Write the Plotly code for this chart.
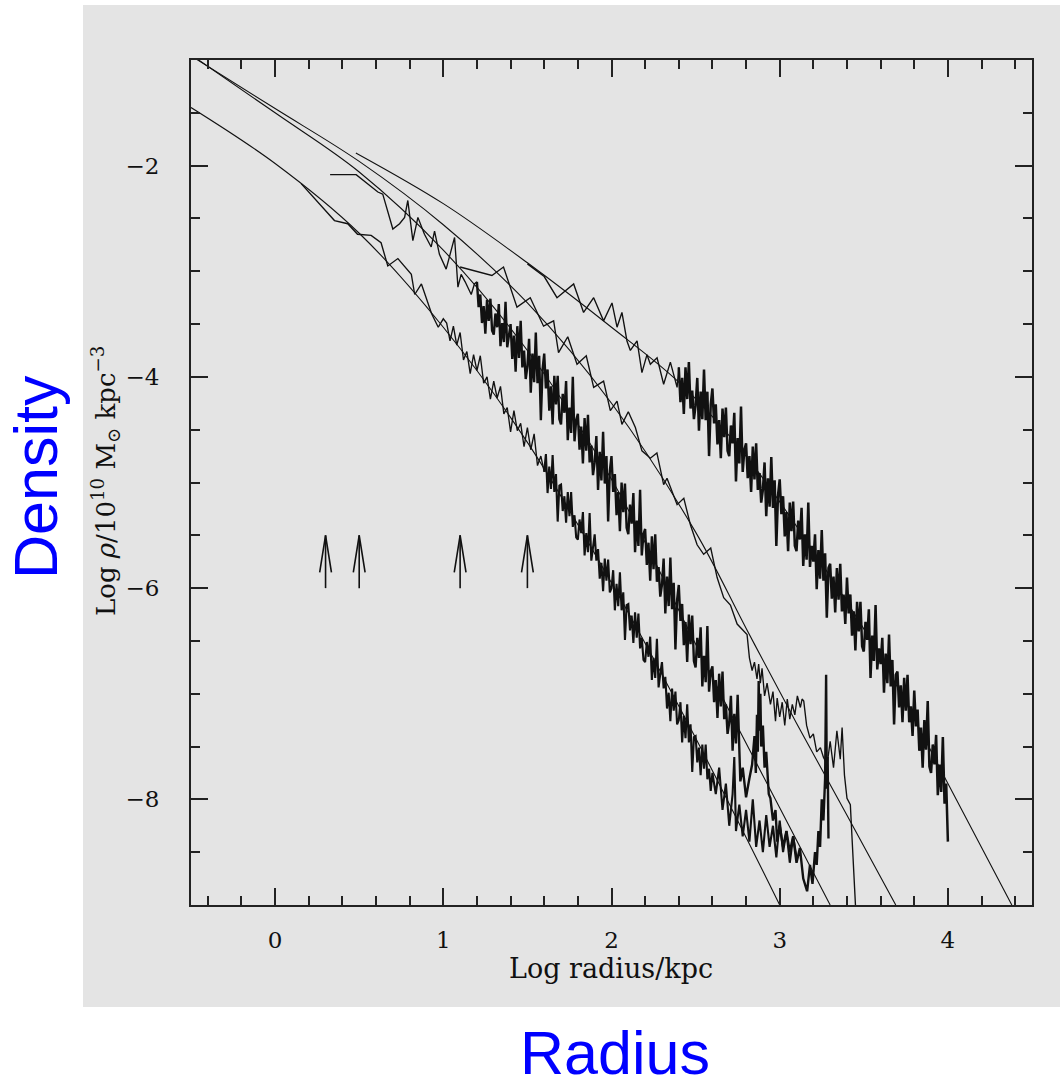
import plotly.graph_objects as go

# ---------------- axes ----------------
X_RANGE = [-0.5, 4.5]
Y_RANGE = [-9.0, -1.0]

# ---------------- model (fit) curves ----------------
M1_X = [-0.5, 0.0, 0.5, 1.0, 1.5, 2.0, 2.5, 3.0]
M1_Y = [-1.45, -1.98, -2.64, -3.53, -4.62, -5.95, -7.42, -9.0]
M2_X = [-0.5, 0.0, 0.5, 1.0, 1.5, 2.0, 2.5, 2.7, 3.0, 3.3]
M2_Y = [-0.95, -1.50, -2.06, -2.80, -3.75, -4.97, -6.53, -7.16, -8.08, -9.0]
M3_X = [-0.5, 0.0, 0.5, 1.0, 1.5, 2.0, 2.5, 2.8, 3.1, 3.4, 3.69]
M3_Y = [-0.96, -1.46, -1.96, -2.56, -3.30, -4.25, -5.47, -6.38, -7.28, -8.15, -9.0]
M4_X = [0.48, 1.0, 1.5, 2.0, 2.4, 2.8, 3.2, 3.6, 4.0, 4.38]
M4_Y = [-1.88, -2.36, -2.92, -3.53, -4.05, -4.75, -5.65, -6.65, -7.85, -9.0]

# ---------------- halo 1 data ----------------
H1_SPARSE_X = [0.155, 0.353, 0.432, 0.49, 0.571, 0.63, 0.67, 0.73, 0.81, 0.83, 0.87, 0.93, 0.97, 1.00]
H1_SPARSE_Y = [-2.17, -2.52, -2.55, -2.65, -2.66, -2.73, -2.95, -2.88, -3.03, -3.22, -3.12, -3.40, -3.53, -3.45]
H1_MID_START, H1_MID_STEP = 1.02, 0.02
H1_MID_Y = [-3.49, -3.66, -3.52, -3.70, -3.58, -3.84, -3.76, -3.97, -3.79, -3.94,
            -3.80, -4.06, -4.00, -4.21, -4.04, -4.20, -4.09, -4.35, -4.29, -4.52,
            -4.32, -4.51, -4.44, -4.66, -4.48, -4.69, -4.54, -4.84, -4.75]
H1_DENSE_START, H1_DENSE_STEP = 1.60, 0.01
H1_DENSE_Y = [-4.90, -4.73, -5.10, -4.85, -5.06, -4.74, -5.09, -4.92, -5.37, -5.03,
              -5.02, -5.27, -5.13, -5.38, -5.09, -5.32, -5.09, -5.42, -5.31, -5.52,
              -5.54, -5.35, -5.48, -5.28, -5.69, -5.48, -5.66, -5.29, -5.74, -5.60,
              -5.49, -5.74, -5.63, -5.91, -5.76, -6.03, -5.72, -5.93, -5.73, -6.04,
              -6.00, -5.83, -6.21, -5.96, -6.17, -5.85, -6.21, -6.04, -6.49, -6.16,
              -6.15, -6.40, -6.26, -6.52, -6.23, -6.47, -6.24, -6.57, -6.47, -6.68,
              -6.70, -6.51, -6.65, -6.46, -6.87, -6.66, -6.85, -6.48, -6.94, -6.81,
              -6.70, -6.95, -6.84, -7.14, -6.99, -7.26, -6.95, -7.16, -6.98, -7.29,
              -7.25, -7.08, -7.46, -7.21, -7.42, -7.10, -7.46, -7.29, -7.74, -7.41,
              -7.40, -7.65, -7.51, -7.77, -7.48, -7.71, -7.48, -7.81, -7.71, -7.92, -7.75]
H1_TAIL_X = [2.62, 2.64, 2.66, 2.68, 2.70, 2.72, 2.73, 2.74, 2.76, 2.78, 2.80, 2.82, 2.84,
             2.86, 2.88, 2.90, 2.92, 2.94, 2.96, 2.98, 3.00, 3.02, 3.04, 3.06, 3.08, 3.10]
H1_TAIL_Y = [-7.95, -7.70, -8.10, -7.85, -8.25, -7.95, -7.60, -8.30, -8.05, -8.35, -8.10, -8.40, -8.00,
             -8.45, -8.20, -8.50, -8.15, -8.45, -8.25, -8.55, -8.20, -8.50, -8.30, -8.60, -8.35, -8.55]

# ---------------- halo 2 data ----------------
H2_SPARSE_X = [0.327, 0.482, 0.611, 0.64, 0.70, 0.74, 0.77, 0.789, 0.819, 0.849, 0.888, 0.928,
               0.948, 0.977, 1.017, 1.067, 1.087, 1.106, 1.13, 1.166, 1.185]
H2_SPARSE_Y = [-2.085, -2.085, -2.25, -2.27, -2.60, -2.55, -2.49, -2.33, -2.71, -2.49, -2.65, -2.77,
               -2.62, -2.84, -2.98, -2.68, -3.15, -3.03, -3.10, -3.22, -3.12]
H2_DENSE_START, H2_DENSE_STEP = 1.20, 0.01
H2_DENSE_Y = [-3.10, -3.34, -3.22, -3.49, -3.33, -3.59, -3.27, -3.47, -3.26, -3.56,
              -3.60, -3.40, -3.53, -3.31, -3.71, -3.49, -3.67, -3.29, -3.72, -3.58,
              -3.50, -3.83, -3.61, -3.95, -3.52, -3.82, -3.47, -3.91, -3.75, -4.02,
              -3.90, -3.64, -4.15, -3.78, -4.05, -3.58, -4.06, -3.80, -4.41, -3.93,
              -3.78, -4.11, -3.93, -4.32, -4.09, -4.45, -3.99, -4.26, -3.99, -4.40,
              -4.45, -4.16, -4.34, -4.04, -4.60, -4.29, -4.53, -4.00, -4.61, -4.41,
              -4.35, -4.69, -4.47, -4.82, -4.39, -4.70, -4.36, -4.81, -4.65, -4.93,
              -4.81, -4.56, -5.07, -4.71, -4.98, -4.52, -5.01, -4.75, -5.37, -4.89,
              -4.75, -5.09, -4.92, -5.31, -5.09, -5.46, -5.00, -5.28, -5.01, -5.43,
              -5.49, -5.21, -5.39, -5.10, -5.66, -5.36, -5.60, -5.07, -5.69, -5.49,
              -5.44, -5.78, -5.57, -5.93, -5.51, -5.82, -5.49, -5.94, -5.80, -6.08,
              -5.97, -5.72, -6.24, -5.89, -6.17, -5.71, -6.20, -5.95, -6.58, -6.11,
              -5.97, -6.31, -6.15, -6.54, -6.32, -6.70, -6.25, -6.53, -6.26, -6.69,
              -6.75, -6.47, -6.66, -6.37, -6.93, -6.64, -6.89, -6.36, -6.98, -6.79,
              -6.74, -7.08, -6.87, -7.23, -6.81, -7.12, -6.79, -7.24, -7.10, -7.38,
              -7.27, -7.02, -7.54, -7.19, -7.47, -7.01]
H2_TAIL_X = [2.766, 2.78, 2.80, 2.82, 2.836, 2.85, 2.858, 2.865, 2.870, 2.875, 2.88, 2.885, 2.89,
             2.90, 2.91, 2.92, 2.935, 2.945, 2.96, 2.975, 2.985, 3.00, 3.02, 3.04, 3.06, 3.08,
             3.10, 3.12, 3.14, 3.163, 3.18, 3.195, 3.21, 3.22, 3.23, 3.24, 3.25, 3.26, 3.27,
             3.276, 3.28, 3.285, 3.29]
H2_TAIL_Y = [-7.83, -7.70, -7.98, -7.80, -7.67, -7.40, -7.75, -7.20, -7.55, -6.88, -7.35, -7.00, -7.50,
             -7.30, -7.70, -7.55, -7.95, -7.99, -8.20, -8.10, -8.40, -8.25, -8.45, -8.30, -8.50, -8.35,
             -8.60, -8.46, -8.75, -8.87, -8.62, -8.80, -8.50, -8.62, -8.30, -8.45, -8.00, -8.20, -7.80,
             -6.82, -7.90, -7.60, -8.37]

# ---------------- halo 3 data ----------------
H3_X = [1.10, 1.289, 1.358, 1.438, 1.517, 1.596, 1.656, 1.685, 1.74, 1.795, 1.85, 1.894, 1.953,
        1.993, 2.033, 2.062, 2.10, 2.142, 2.181, 2.231, 2.27, 2.310, 2.330, 2.390, 2.43, 2.469,
        2.509, 2.548, 2.59, 2.628, 2.667, 2.707, 2.747, 2.786,
        2.806, 2.82, 2.836, 2.85, 2.865, 2.875, 2.885, 2.895, 2.91, 2.925, 2.945, 2.96, 2.975,
        2.985, 3.00, 3.015, 3.03, 3.045, 3.06, 3.075, 3.09, 3.105, 3.123, 3.133, 3.143, 3.16,
        3.18, 3.20, 3.22, 3.242, 3.26, 3.282, 3.30, 3.32, 3.34, 3.36, 3.371, 3.385, 3.40, 3.42, 3.46]
H3_Y = [-2.96, -3.04, -2.96, -3.34, -3.25, -3.52, -3.47, -3.77, -3.62, -3.88, -3.80, -4.10, -4.04,
        -4.32, -4.23, -4.45, -4.33, -4.48, -4.70, -4.77, -4.72, -5.02, -4.96, -5.21, -5.15, -5.40,
        -5.59, -5.68, -5.62, -5.90, -6.09, -6.16, -6.34, -6.41,
        -6.44, -6.66, -6.78, -6.70, -6.86, -6.72, -6.90, -6.76, -7.02, -6.90, -7.10, -6.98, -7.26,
        -7.04, -7.22, -7.08, -7.30, -7.05, -7.24, -7.10, -7.20, -7.02, -7.13, -7.05, -7.07, -7.30,
        -7.42, -7.38, -7.55, -7.51, -7.60, -7.67, -7.45, -7.70, -7.35, -7.62, -7.32, -7.77, -7.99, -8.05, -9.3]

# ---------------- halo 4 data ----------------
H4_SPARSE_X = [1.50, 1.60, 1.676, 1.775, 1.834, 1.894, 1.953, 2.003, 2.033, 2.062, 2.092, 2.112,
               2.152, 2.181, 2.211, 2.231, 2.271, 2.310, 2.350, 2.390]
H4_SPARSE_Y = [-2.93, -3.05, -3.25, -3.12, -3.39, -3.25, -3.47, -3.30, -3.53, -3.39, -3.66, -3.75,
               -3.66, -3.96, -3.79, -3.88, -3.82, -4.07, -3.86, -4.10]
H4_DENSE_START, H4_DENSE_STEP = 2.40, 0.01
H4_DENSE_Y = [-3.91, -4.24, -4.01, -4.35, -3.91, -4.21, -3.86, -4.30, -4.13, -4.40,
              -4.27, -4.01, -4.51, -4.14, -4.40, -3.93, -4.41, -4.14, -4.75, -4.26,
              -4.11, -4.44, -4.26, -4.64, -4.41, -4.77, -4.30, -4.57, -4.29, -4.70,
              -4.75, -4.46, -4.63, -4.34, -4.99, -4.58, -4.82, -4.28, -4.90, -4.69,
              -4.63, -4.96, -4.75, -5.09, -4.66, -4.97, -4.63, -5.07, -4.91, -5.19,
              -5.07, -4.81, -5.32, -4.96, -5.23, -4.76, -5.24, -4.98, -5.60, -5.12,
              -4.97, -5.30, -5.13, -5.51, -5.28, -5.65, -5.19, -5.46, -5.18, -5.60,
              -5.65, -5.36, -5.54, -5.24, -5.79, -5.49, -5.73, -5.19, -5.80, -5.60,
              -5.75, -5.49, -6.01, -5.64, -5.91, -5.45, -5.93, -5.67, -6.28, -5.81,
              -5.77, -6.10, -5.89, -6.23, -5.81, -6.11, -5.77, -6.22, -6.06, -6.34,
              -5.90, -6.24, -6.06, -6.45, -6.22, -6.59, -6.13, -6.41, -6.13, -6.55,
              -6.60, -6.32, -6.49, -6.20, -6.85, -6.45, -6.69, -6.16, -6.77, -6.57,
              -6.72, -6.47, -6.99, -6.62, -6.90, -6.44, -6.93, -6.68, -7.29, -6.82,
              -6.79, -7.13, -6.92, -7.27, -6.85, -7.16, -6.82, -7.27, -7.12, -7.40,
              -6.97, -7.31, -7.15, -7.54, -7.32, -7.70, -7.25, -7.53, -7.07, -7.69,
              -7.75, -7.48, -7.67, -7.39, -7.96, -7.67, -7.93, -7.41, -8.04, -7.85, -8.40]

# ---------------- scale-radius arrows ----------------
ARROW_X = [0.3, 0.5, 1.1, 1.5]
ARROW_BASE = -6.0
ARROW_TIP = -5.5


def grid(start, step, n):
    return [round(start + i * step, 4) for i in range(n)]


h1_dense_x = grid(H1_DENSE_START, H1_DENSE_STEP, len(H1_DENSE_Y))
h2_dense_x = grid(H2_DENSE_START, H2_DENSE_STEP, len(H2_DENSE_Y))
h4_dense_x = grid(H4_DENSE_START, H4_DENSE_STEP, len(H4_DENSE_Y))

# thin (sparse) parts, each joined to the first point of its dense part
h1_thin_x = H1_SPARSE_X + grid(H1_MID_START, H1_MID_STEP, len(H1_MID_Y)) + h1_dense_x[:1]
h1_thin_y = H1_SPARSE_Y + H1_MID_Y + H1_DENSE_Y[:1]
h2_thin_x = H2_SPARSE_X + h2_dense_x[:1]
h2_thin_y = H2_SPARSE_Y + H2_DENSE_Y[:1]
h4_thin_x = H4_SPARSE_X + h4_dense_x[:1]
h4_thin_y = H4_SPARSE_Y + H4_DENSE_Y[:1]

# dense parts
h1_thick_x = h1_dense_x + H1_TAIL_X
h1_thick_y = H1_DENSE_Y + H1_TAIL_Y
h2_thick_x = h2_dense_x + H2_TAIL_X
h2_thick_y = H2_DENSE_Y + H2_TAIL_Y

INK = "#111111"
fig = go.Figure()

for mx, my in [(M1_X, M1_Y), (M2_X, M2_Y), (M3_X, M3_Y), (M4_X, M4_Y)]:
    fig.add_trace(go.Scatter(x=mx, y=my, mode="lines",
                             line=dict(color=INK, width=1.1, shape="spline", smoothing=1.0),
                             hoverinfo="skip", showlegend=False))

for dx, dy in [(h1_thin_x, h1_thin_y), (h2_thin_x, h2_thin_y), (H3_X, H3_Y), (h4_thin_x, h4_thin_y)]:
    fig.add_trace(go.Scatter(x=dx, y=dy, mode="lines",
                             line=dict(color=INK, width=1.35),
                             showlegend=False))

for dx, dy, lw in [(h1_thick_x, h1_thick_y, 2.1), (h2_thick_x, h2_thick_y, 2.4),
                   (h4_dense_x, H4_DENSE_Y, 2.5)]:
    fig.add_trace(go.Scatter(x=dx, y=dy, mode="lines",
                             line=dict(color=INK, width=lw),
                             showlegend=False))

# arrows (shaft + open head)
HEAD_W = 0.035
HEAD_L = 0.35
ax, ay = [], []
for xa in ARROW_X:
    ax += [xa, xa, None, xa - HEAD_W, xa, xa + HEAD_W, None]
    ay += [ARROW_BASE, ARROW_TIP, None, ARROW_TIP - HEAD_L, ARROW_TIP, ARROW_TIP - HEAD_L, None]
fig.add_trace(go.Scatter(x=ax, y=ay, mode="lines", line=dict(color=INK, width=1.6),
                         hoverinfo="skip", showlegend=False))

GRAY = "#e4e4e4"
L, R, T, B = 191, 28, 60, 184
W, H = 1060, 1089
pw, ph = W - L - R, H - T - B


def px_x(p):
    return (p - L) / pw


def px_y(p):
    return (H - B - p) / ph


SERIF = "DejaVu Serif"
axis_common = dict(showline=True, linecolor="#222222", linewidth=1.8, mirror="ticks",
                   ticks="inside", tickcolor="#222222", tickwidth=1.5, ticklen=17,
                   showgrid=False, zeroline=False,
                   tickfont=dict(family=SERIF, size=23, color="#111111"))

fig.update_layout(
    width=W, height=H, autosize=False,
    margin=dict(l=L, r=R, t=T, b=B),
    paper_bgcolor="white", plot_bgcolor=GRAY,
    xaxis=dict(range=X_RANGE, tick0=0, dtick=1, ticklabelstandoff=13,
               minor=dict(dtick=0.2, ticks="inside", ticklen=9, tickwidth=1.5, tickcolor="#222222"),
               **axis_common),
    yaxis=dict(range=Y_RANGE, tick0=0, dtick=2, ticklabelstandoff=25,
               minor=dict(dtick=0.5, ticks="inside", ticklen=9, tickwidth=1.5, tickcolor="#222222"),
               **axis_common),
    shapes=[dict(type="rect", xref="paper", yref="paper", layer="below",
                 x0=px_x(83), x1=px_x(1060), y0=px_y(1007), y1=px_y(5),
                 fillcolor=GRAY, line=dict(width=0))],
    annotations=[
        dict(text="Log radius/kpc", xref="paper", yref="paper", x=px_x(611), y=px_y(968),
             xanchor="center", yanchor="middle", showarrow=False,
             font=dict(family=SERIF, size=27, color="#111111")),
        dict(text="Log <i>ρ</i>/10<sup>10</sup> M<sub>⊙</sub> kpc<sup>−3</sup>",
             xref="paper", yref="paper", x=px_x(106), y=px_y(481), textangle=-90,
             xanchor="center", yanchor="middle", showarrow=False,
             font=dict(family=SERIF, size=26, color="#111111")),
        dict(text="Density", xref="paper", yref="paper", x=px_x(36), y=px_y(477), textangle=-90,
             xanchor="center", yanchor="middle", showarrow=False,
             font=dict(family="Liberation Sans", size=61, color="#0000ff")),
        dict(text="Radius", xref="paper", yref="paper", x=px_x(615), y=px_y(1089),
             xanchor="center", yanchor="bottom", showarrow=False,
             font=dict(family="Liberation Sans", size=61, color="#0000ff")),
    ],
)

fig.write_html("out.html")
